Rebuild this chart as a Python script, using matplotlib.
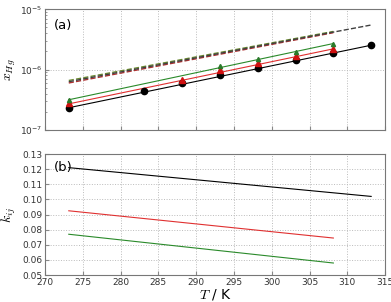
import matplotlib
matplotlib.use("Agg")
import matplotlib.pyplot as plt
import numpy as np

plt.rcParams['mathtext.fontset'] = 'cm'
plt.rcParams['font.size'] = 6.5

# --- data ---
T_exp_black = [273.15, 283.15, 288.15, 293.15, 298.15, 303.15, 308.15, 313.15]
x_exp_black = [2.33e-7, 4.4e-7, 5.9e-7, 8.0e-7, 1.08e-6, 1.43e-6, 1.9e-6, 2.54e-6]
T_exp_red = [273.15, 288.15, 293.15, 298.15, 303.15, 308.15]
x_exp_red = [2.75e-7, 6.8e-7, 1.0e-6, 1.29e-6, 1.71e-6, 2.21e-6]
T_exp_green = [273.15, 293.15, 298.15, 303.15, 308.15]
x_exp_green = [3.16e-7, 1.14e-6, 1.51e-6, 1.97e-6, 2.71e-6]

# correlated (solid) and predicted (dashed) curves, end points
T_black = [273.15, 313.15]
T_col = [273.15, 308.15]
x_fit_black = [2.33e-7, 2.54e-6]
x_fit_red = [2.7e-7, 2.21e-6]
x_fit_green = [3.16e-7, 2.71e-6]
x_pred_black = [6.3e-7, 5.5e-6]
x_pred_red = [6.0e-7, 4.1e-6]
x_pred_green = [6.6e-7, 4.3e-6]

k_black = [0.121, 0.102]
k_red = [0.0925, 0.0745]
k_green = [0.077, 0.058]

fig = plt.figure(figsize=(3.91, 3.02), dpi=100)
ax1 = fig.add_axes([0.115, 0.570, 0.870, 0.399])
ax2 = fig.add_axes([0.115, 0.089, 0.870, 0.401])

# panel (a)
ax1.semilogy(T_col, x_pred_red, '--', color='#b03030', lw=1)
ax1.semilogy(T_col, x_pred_green, '--', color='#6a8a30', lw=1)
ax1.semilogy(T_black, x_pred_black, '--', color='#404040', lw=1)
ax1.semilogy(T_black, x_fit_black, '-', color='black', lw=0.8)
ax1.semilogy(T_col, x_fit_red, '-', color='#e03030', lw=0.8)
ax1.semilogy(T_col, x_fit_green, '-', color='#2a8a2a', lw=0.8)
ax1.plot(T_exp_black, x_exp_black, 'o', color='black', ms=4.5)
ax1.plot(T_exp_red, x_exp_red, '^', color='#d01010', ms=4)
ax1.plot(T_exp_green, x_exp_green, '^', color='#2a7a2a', ms=3)
ax1.set_ylim(1e-7, 1e-5)
ax1.set_ylabel('$x_{Hg}$', fontsize=10)
ax1.text(0.025, 0.87, '(a)', transform=ax1.transAxes, fontsize=9.5, va='center')
ax1.tick_params(labelbottom=False)

# panel (b)
ax2.plot(T_black, k_black, '-', color='black', lw=0.8)
ax2.plot(T_col, k_red, '-', color='#e03030', lw=0.8)
ax2.plot(T_col, k_green, '-', color='#2a8a2a', lw=0.8)
ax2.set_ylim(0.05, 0.13)
ax2.set_yticks(np.arange(0.05, 0.131, 0.01))
ax2.set_ylabel('$k_{ij}$', fontsize=10)
ax2.set_xlabel('$T$ / K', fontsize=10, labelpad=0)
ax2.text(0.025, 0.89, '(b)', transform=ax2.transAxes, fontsize=9.5, va='center')

for ax in (ax1, ax2):
    ax.set_xlim(270, 315)
    ax.set_xticks(np.arange(270, 316, 5))
    ax.yaxis.set_label_coords(-0.078, 0.5)
    ax.grid(True, which='major', ls=':', color='#bbbbbb', lw=0.7)
    ax.tick_params(which='major', direction='in', length=3, colors='#888888',
                   labelcolor='#333333', pad=2)
    ax.tick_params(which='minor', direction='in', length=1.5, colors='#888888')
    for s in ax.spines.values():
        s.set_color('#777777')

fig.savefig('out.png', dpi=100)
